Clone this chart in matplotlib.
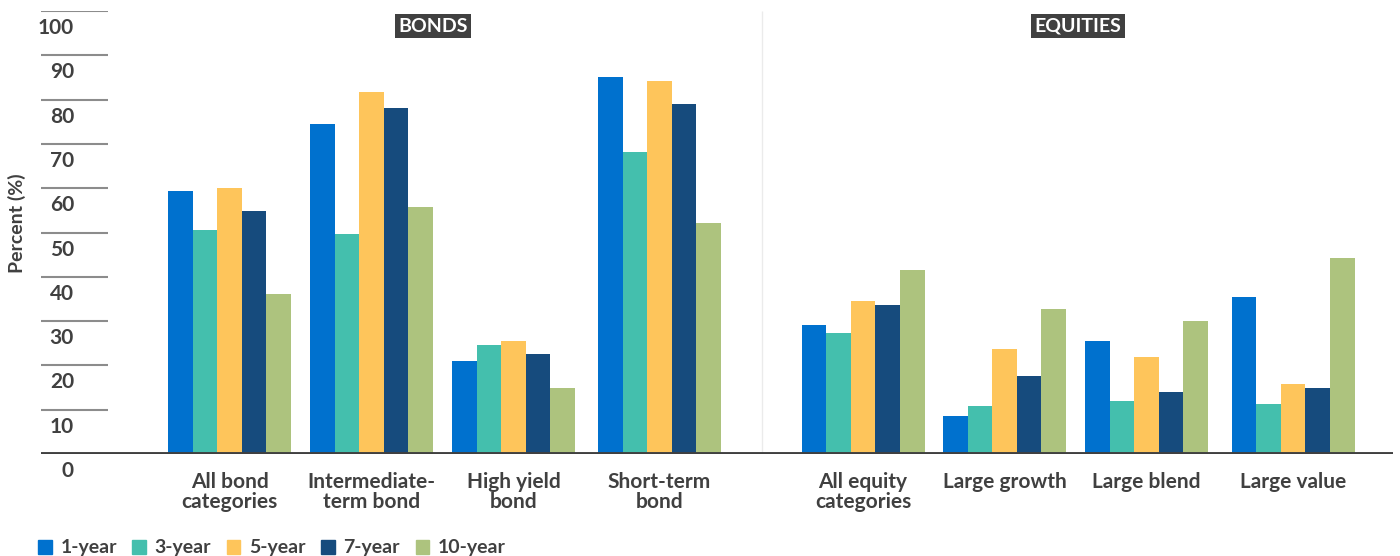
"""Bonds vs equities: share of funds by category and horizon (grouped bars)."""
import matplotlib
matplotlib.use("Agg")
import matplotlib.pyplot as plt
from matplotlib.patches import Patch

plt.rcParams["font.family"] = ["Lato", "DejaVu Sans"]

categories = ["All bond\ncategories", "Intermediate-\nterm bond", "High yield\nbond",
              "Short-term\nbond", "All equity\ncategories", "Large growth",
              "Large blend", "Large value"]
series_names = ["1-year", "3-year", "5-year", "7-year", "10-year"]
one_year = [59.4, 74.5, 21.0, 85.1, 29.1, 8.6, 25.5, 35.4]
three_year = [50.6, 49.7, 24.6, 68.2, 27.3, 10.8, 12.0, 11.3]
five_year = [60.0, 81.7, 25.5, 84.2, 34.5, 23.7, 21.9, 15.8]
seven_year = [54.9, 78.1, 22.6, 79.0, 33.6, 17.6, 14.0, 14.9]
ten_year = [36.1, 55.8, 14.9, 52.1, 41.5, 32.7, 30.0, 44.2]
y_ticks = [0, 10, 20, 30, 40, 50, 60, 70, 80, 90, 100]

COLORS = ["#0071ce", "#44bfad", "#fec55b", "#164b7d", "#adc37e"]
TXT = "#404040"

# layout (x in pixel-like units of the original picture)
centers = [229.5, 371.5, 513.5, 659.5, 863, 1004.5, 1146.5, 1293]
bar_w = 24.6
divider_x = 762

W, H = 1400, 556
fig = plt.figure(figsize=(W / 100, H / 100), dpi=100)
ax = fig.add_axes([41 / W, (H - 454) / H, (1393 - 41) / W, (454 - 11) / H])
ax.set_xlim(41, 1393)
ax.set_ylim(0, 100)
ax.axis("off")

all_series = [one_year, three_year, five_year, seven_year, ten_year]
for i, (vals, color) in enumerate(zip(all_series, COLORS)):
    xs = [c + (i - 2) * bar_w for c in centers]
    ax.bar(xs, vals, width=bar_w, color=color, linewidth=0, zorder=2)

# short tick lines with labels under them
ax.hlines(y_ticks[1:], 41, 108, color="#8c8c8c", lw=1.5, zorder=1)
for v in y_ticks:
    ax.text(74, v - 1.6, str(v), ha="right", va="top", fontsize=15,
            fontweight="bold", color=TXT)
ax.axhline(0, color=TXT, lw=2.8, zorder=3)
ax.vlines(divider_x, 0, 100, color="#ebebeb", lw=1, zorder=0)

for c, lab in zip(centers, categories):
    ax.text(c, -4.0, lab, ha="center", va="top", fontsize=15, fontweight="bold",
            color=TXT, linespacing=1.0)

for x, lab in [(433, "BONDS"), (1078, "EQUITIES")]:
    ax.text(x, 96.6, lab, ha="center", va="center", fontsize=14, fontweight="bold",
            color="white", bbox=dict(boxstyle="square,pad=0.18", fc=TXT, ec="none"))

fig.text(17 / W, 1 - 223 / H, "Percent (%)", rotation=90, ha="center", va="center",
         fontsize=14, fontweight="bold", color=TXT)

handles = [Patch(color=c, label=n) for c, n in zip(COLORS, series_names)]
fig.legend(handles=handles, loc="center left", bbox_to_anchor=(38 / W, 1 - 548 / H),
           ncol=5, frameon=False, handlelength=0.7, handleheight=0.7,
           handletextpad=0.45, columnspacing=0.8, borderpad=0, borderaxespad=0,
           prop={"weight": "bold", "size": 14}, labelcolor=TXT)

fig.savefig("out.png", dpi=100)
